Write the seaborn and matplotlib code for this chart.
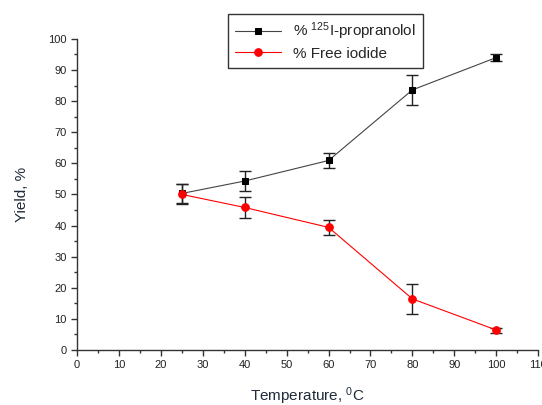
import matplotlib
matplotlib.use("Agg")
import matplotlib.pyplot as plt
import seaborn as sns
import pandas as pd
import numpy as np
from matplotlib.ticker import MultipleLocator

temperature = [25, 40, 60, 80, 100]
propranolol = [50.3, 54.3, 60.9, 83.6, 94.0]
propranolol_err = [3.2, 3.2, 2.5, 4.7, 1.0]
free_iodide = [50.0, 45.8, 39.4, 16.4, 6.4]
free_iodide_err = [3.2, 3.3, 2.3, 4.7, 0.8]

sns.set_style("ticks")
plt.rcParams['font.family'] = ['Liberation Sans', 'DejaVu Sans']
plt.rcParams['mathtext.default'] = 'regular'

fig = plt.figure(figsize=(5.42, 4.05), dpi=100)
ax = fig.add_axes([0.142, 0.136, 0.851, 0.768])

df = pd.DataFrame({
    "T": temperature * 2,
    "y": propranolol + free_iodide,
    "s": ["p"] * 5 + ["f"] * 5,
})

ax.errorbar(temperature, propranolol, yerr=propranolol_err, fmt='none',
            ecolor='#222222', elinewidth=1, capsize=4, capthick=1, zorder=2)
ax.errorbar(temperature, free_iodide, yerr=free_iodide_err, fmt='none',
            ecolor='#222222', elinewidth=1, capsize=4, capthick=1, zorder=2)

sns.lineplot(data=df[df.s == "p"], x="T", y="y", ax=ax, color='#444444',
             linewidth=0.8, marker='s', markersize=5, markerfacecolor='black',
             markeredgecolor='black', label='% $^{125}$I-propranolol', zorder=3)
sns.lineplot(data=df[df.s == "f"], x="T", y="y", ax=ax, color='red',
             linewidth=0.8, marker='o', markersize=5.5, markerfacecolor='red',
             markeredgecolor='red', label='% Free iodide', zorder=4)

ax.set_xlim(0, 110)
ax.set_ylim(0, 100)
ax.xaxis.set_major_locator(MultipleLocator(10))
ax.xaxis.set_minor_locator(MultipleLocator(5))
ax.yaxis.set_major_locator(MultipleLocator(10))
ax.yaxis.set_minor_locator(MultipleLocator(5))
ax.tick_params(axis='both', which='major', direction='out', length=4, width=1,
               labelsize=8, colors='#333333', labelcolor='#222222')
ax.tick_params(axis='both', which='minor', direction='out', length=2.5, width=1,
               colors='#333333')
for s in ['top', 'right']:
    ax.spines[s].set_visible(False)
for s in ['left', 'bottom']:
    ax.spines[s].set_color('#333333')
    ax.spines[s].set_linewidth(1)

ax.set_xlabel('Temperature, $^{0}$C', fontsize=11, color='#1f2a3a', labelpad=11)
ax.set_ylabel('Yield, %', fontsize=11, color='#1f2a3a', labelpad=14)

leg = ax.legend(loc='upper left', bbox_to_anchor=(0.328, 1.081), fontsize=11,
                frameon=True, fancybox=False, edgecolor='#333333',
                handlelength=3.0, borderpad=0.45, labelspacing=0.3,
                borderaxespad=0, framealpha=1)
leg.get_frame().set_linewidth(1)

fig.savefig("out.png", dpi=100)
